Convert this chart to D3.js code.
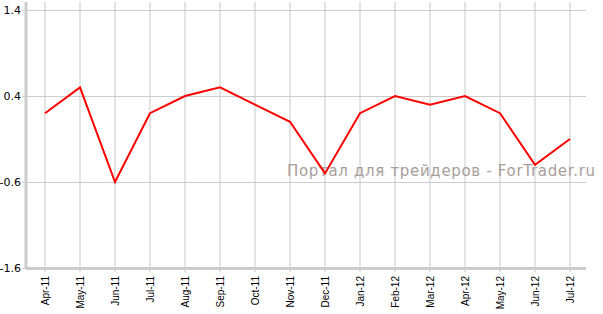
<!DOCTYPE html>
<html>
<head>
<meta charset="utf-8">
<script src="https://cdn.jsdelivr.net/npm/d3@7"></script>
<style>
  body { margin: 0; background: #fff; }
  svg { display: block; }
</style>
</head>
<body>
<div id="chart"></div>
<script>
const months = ['Apr-11', 'May-11', 'Jun-11', 'Jul-11', 'Aug-11', 'Sep-11', 'Oct-11', 'Nov-11',
                'Dec-11', 'Jan-12', 'Feb-12', 'Mar-12', 'Apr-12', 'May-12', 'Jun-12', 'Jul-12']
const values = [0.2, 0.5, -0.6, 0.2, 0.4, 0.5, 0.3, 0.1, -0.5, 0.2, 0.4, 0.3, 0.4, 0.2, -0.4, -0.1]
const yTicks = [-1.6, -0.6, 0.4, 1.4]

const width = 603,
      height = 314,
      padLeft = 26,
      padRight = 586,
      padTop = 10,
      padBottom = 268

const svg = d3.select('#chart')
              .append('svg')
              .attr('width', width)
              .attr('height', height)

const xScale = d3.scalePoint()
                 .domain(months)
                 .range([45, 570]),

      yScale = d3.scaleLinear()
                 .domain([-1.6, 1.4])
                 .range([padBottom, padTop])

// vertical grid
svg.append('g')
   .selectAll('line')
   .data(months)
   .enter()
   .append('line')
   .attr('x1', d => xScale(d))
   .attr('x2', d => xScale(d))
   .attr('y1', 2)
   .attr('y2', padBottom + 4)
   .attr('stroke', '#e3e3e3')
   .attr('stroke-width', 2)

// horizontal grid
svg.append('g')
   .selectAll('line')
   .data(yTicks)
   .enter()
   .append('line')
   .attr('x1', padLeft - 4)
   .attr('x2', padRight)
   .attr('y1', d => yScale(d) + 0.5)
   .attr('y2', d => yScale(d) + 0.5)
   .attr('stroke', '#cccccc')
   .attr('stroke-width', 1)

// axes lines
svg.append('line')
   .attr('x1', padLeft).attr('x2', padLeft)
   .attr('y1', 2).attr('y2', padBottom + 1)
   .attr('stroke', '#cccccc')
   .attr('stroke-width', 3)

svg.append('line')
   .attr('x1', padLeft).attr('x2', padRight)
   .attr('y1', padBottom + 0.5).attr('y2', padBottom + 0.5)
   .attr('stroke', '#cccccc')
   .attr('stroke-width', 3)

// y labels
svg.append('g')
   .selectAll('text')
   .data(yTicks)
   .enter()
   .append('text')
   .attr('x', 21)
   .attr('y', d => yScale(d) + 4)
   .attr('text-anchor', 'end')
   .attr('font-family', 'DejaVu Sans, Verdana, sans-serif')
   .attr('font-size', 11)
   .attr('fill', '#000')
   .text(d => d.toFixed(1))

// x labels
svg.append('g')
   .selectAll('text')
   .data(months)
   .enter()
   .append('text')
   .attr('transform', d => 'translate(' + (xScale(d) + 3.5) + ',' + (padBottom + 8) + ') rotate(-90)')
   .attr('text-anchor', 'end')
   .attr('font-family', 'Liberation Sans, Arial, sans-serif')
   .attr('font-size', 10)
   .attr('fill', '#000')
   .text(d => d)

// watermark
svg.append('text')
   .attr('x', 287)
   .attr('y', 176)
   .attr('font-family', 'DejaVu Sans, Verdana, sans-serif')
   .attr('font-size', 15)
   .attr('fill', '#a89e9b')
   .attr('textLength', 308)
   .text('Портал для трейдеров - ForTrader.ru')

// line
const line = d3.line()
               .x((d, i) => xScale(months[i]))
               .y(d => yScale(d))

svg.append('path')
   .datum(values)
   .attr('d', line)
   .attr('fill', 'none')
   .attr('stroke', '#ff0000')
   .attr('stroke-width', 2)
   .attr('stroke-linejoin', 'miter')
</script>
</body>
</html>
